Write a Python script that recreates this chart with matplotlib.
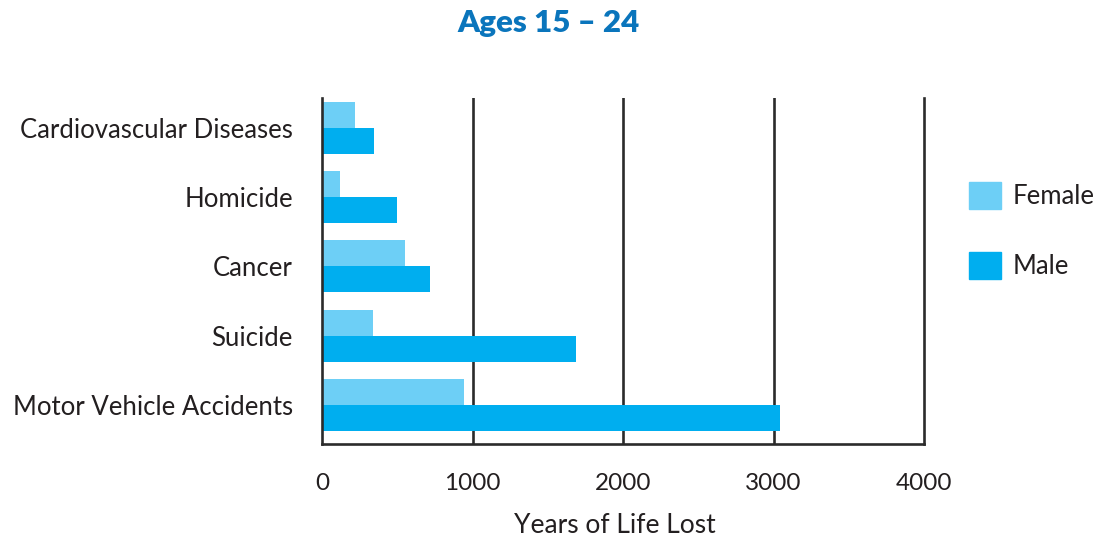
import matplotlib
matplotlib.use("Agg")
import matplotlib.pyplot as plt
from matplotlib.patches import Patch

# Years of life lost, ages 15-24 (bottom to top)
categories = ["Motor Vehicle Accidents", "Suicide", "Cancer", "Homicide",
              "Cardiovascular Diseases"]
female = [943, 336, 551, 118, 218]
male = [3044, 1687, 718, 498, 345]
xticks = [0, 1000, 2000, 3000, 4000]

FEMALE_C = "#6DCFF6"
MALE_C = "#00AEEF"
TEXT_C = "#231F20"
LINE_C = "#2B2B2B"

plt.rcParams["font.family"] = ["Lato", "DejaVu Sans"]

fig = plt.figure(figsize=(11.04, 5.38), dpi=100)
ax = fig.add_axes([0.2917, 0.1747, 0.837 - 0.2917, 0.8178 - 0.1747])

h = 0.375
ys = list(range(len(categories)))
ax.barh([y + h / 2 for y in ys], female, height=h, color=FEMALE_C, zorder=1)
ax.barh([y - h / 2 for y in ys], male, height=h, color=MALE_C, zorder=1)

for v in xticks[1:-1]:
    ax.axvline(v, color=LINE_C, lw=1.9, zorder=0)

ax.set_xlim(0, 4000)
ax.set_ylim(-0.563, 4.43)
ax.set_xticks(xticks)
ax.set_xticklabels([str(v) for v in xticks])
ax.set_yticks(ys)
ax.set_yticklabels(categories)
ax.tick_params(axis="both", length=0, colors=TEXT_C)
ax.tick_params(axis="x", pad=21, labelsize=17.5)
ax.tick_params(axis="y", pad=21, labelsize=18.5)

for s in ("left", "right", "bottom"):
    ax.spines[s].set_color(LINE_C)
    ax.spines[s].set_linewidth(1.9)
ax.spines["top"].set_visible(False)

ax.set_xlabel("Years of Life Lost", fontsize=19, color=TEXT_C)
ax.xaxis.set_label_coords(0.486, -0.2)

fig.text(0.497, 0.958, "Ages 15 \u2013 24", ha="center", va="center",
         fontsize=22.5, fontweight="heavy", color="#0A75BC")

handles = [Patch(color=FEMALE_C), Patch(color=MALE_C)]
fig.legend(handles, ["Female", "Male"], loc="center left",
           bbox_to_anchor=(0.8777, 0.5716), frameon=False, fontsize=18.5,
           handlelength=1.25, handleheight=1.25, handletextpad=0.45,
           labelspacing=1.65, labelcolor=TEXT_C, borderaxespad=0,
           borderpad=0)

fig.savefig("out.png", dpi=100)
